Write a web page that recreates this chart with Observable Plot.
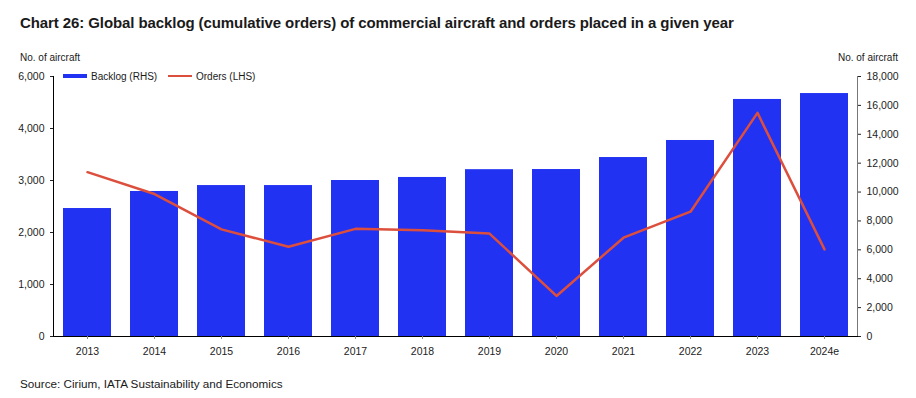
<!DOCTYPE html>
<html><head><meta charset="utf-8">
<script src="https://cdn.jsdelivr.net/npm/d3@7"></script>
<script src="https://cdn.jsdelivr.net/npm/@observablehq/plot@0.6"></script>
<style>
body{margin:0;background:#fff;font-family:"Liberation Sans",Arial,sans-serif;}
#wrap{position:relative;width:916px;height:398px;overflow:hidden}
#chart{position:absolute;left:0;top:0}
.t{position:absolute;white-space:nowrap;color:#1a1a1a;line-height:1}
.sw{position:absolute}
</style></head><body><div id="wrap">
<div id="chart"></div>
<div class="t" style="left:20px;top:15px;font-weight:bold;font-size:15px;letter-spacing:-0.09px">Chart 26: Global backlog (cumulative orders) of commercial aircraft and orders placed in a given year</div>
<div class="t" style="left:20px;top:53px;font-size:10px">No. of aircraft</div>
<div class="t" style="right:18px;top:53px;font-size:10px">No. of aircraft</div>
<div class="sw" style="left:63px;top:74px;width:24px;height:4px;background:#2232F2"></div>
<div class="t" style="left:91px;top:72px;font-size:10px">Backlog (RHS)</div>
<div class="sw" style="left:168px;top:75px;width:24px;height:2px;background:#DD4F3D"></div>
<div class="t" style="left:196px;top:72px;font-size:10px">Orders (LHS)</div>
<div class="t" style="left:20px;top:378px;font-size:11.7px">Source: Cirium, IATA Sustainability and Economics</div>
</div>
<script>
const years = ["2013","2014","2015","2016","2017","2018","2019","2020","2021","2022","2023","2024e"];
const backlog = [8860,10040,10450,10450,10800,11010,11550,11560,12390,13570,16410,16820];
const orders = [3160,2740,2060,1725,2070,2045,1980,780,1900,2400,4300,1675];
const leftTicks = [0,1000,2000,3000,4000,5000];
const leftTickLabels = ["0","1,000","2,000","3,000","4,000","6,000"];
const rightTicks = [0,2000,4000,6000,8000,10000,12000,14000,16000,18000];
const leftMax = 5000, rightMax = 18000;
const k = leftMax / rightMax;
const data = years.map((y, i) => ({year: y, backlog: backlog[i], orders: orders[i]}));
const fmt = d3.format(",");

const chart = Plot.plot({
  width: 916, height: 398,
  marginLeft: 53, marginRight: 59, marginTop: 76, marginBottom: 62,
  style: {fontFamily: "Liberation Sans, Arial, sans-serif", fontSize: "10.5px", color: "#222", background: "transparent"},
  x: {domain: years, paddingInner: 0.284, paddingOuter: 0.142, axis: null, label: null},
  y: {domain: [0, leftMax], axis: null, label: null},
  marks: [
    Plot.barY(data, {x: "year", y: d => d.backlog * k, fill: "#2232F2"}),
    Plot.line(data, {x: "year", y: "orders", stroke: "#DD4F3D", strokeWidth: 2.5}),
    Plot.frame({anchor: "left", stroke: "#000"}),
    Plot.frame({anchor: "right", stroke: "#777"}),
    Plot.frame({anchor: "bottom", stroke: "#000"}),
    Plot.axisX({tickSize: 3, tickPadding: 8, stroke: "#888", fill: "#222", label: null}),
    Plot.axisY(leftTicks, {anchor: "left", tickSize: 3, tickPadding: 6, tickFormat: d => leftTickLabels[leftTicks.indexOf(d)], fill: "#222", label: null}),
    Plot.axisY(rightTicks.map(v => v * k), {anchor: "right", tickSize: 3, tickPadding: 6, tickFormat: d => fmt(Math.round(d / k)), fill: "#222", label: null})
  ]
});
document.getElementById("chart").appendChild(chart);
</script>
</body></html>
